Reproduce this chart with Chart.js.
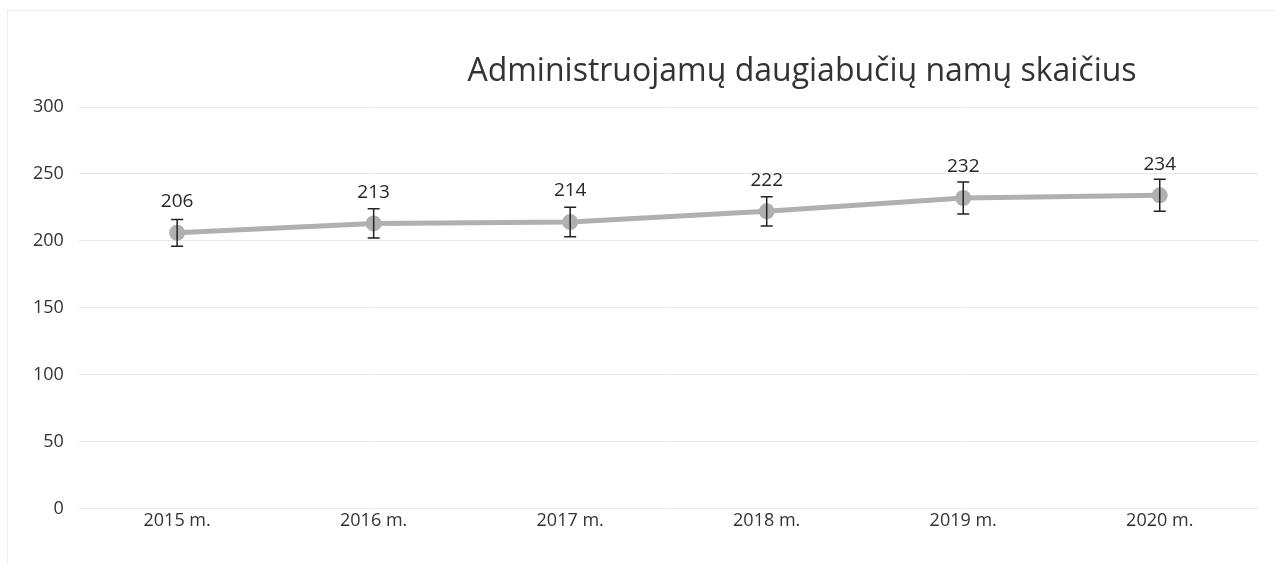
<!DOCTYPE html>
<html>
<head>
<meta charset="utf-8">
<script src="https://cdn.jsdelivr.net/npm/chart.js@4.4.1/dist/chart.umd.min.js"></script>
<style>
    html, body { margin: 0; padding: 0; background: #fff; }
    #wrap { position: relative; width: 1275px; height: 564px; }
</style>
</head>
<body>
<div id="wrap"><canvas id="houseChart" width="1275" height="564"></canvas></div>
<script>
const chartTitle = 'Administruojamų daugiabučių namų skaičius';
const years = ['2015 m.', '2016 m.', '2017 m.', '2018 m.', '2019 m.', '2020 m.'];
const houses = [206, 213, 214, 222, 232, 234];
const errors = [10, 11, 11, 11, 12, 12];
const yTicks = [0, 50, 100, 150, 200, 250, 300];

const FONT = "'Open Sans', 'Noto Sans', sans-serif";

// Error bars: drawn through the y scale
const errorBars = {
    id: 'errorBars',
    afterDatasetsDraw(chart) {
        const { ctx, scales: { x, y } } = chart;
        ctx.save();
        ctx.strokeStyle = '#222';
        ctx.lineWidth = 1.5;
        houses.forEach((v, i) => {
            const px = x.getPixelForValue(i);
            const top = y.getPixelForValue(v + errors[i]);
            const bot = y.getPixelForValue(v - errors[i]);
            ctx.beginPath();
            ctx.moveTo(px, top); ctx.lineTo(px, bot);
            ctx.moveTo(px - 6, top); ctx.lineTo(px + 6, top);
            ctx.moveTo(px - 6, bot); ctx.lineTo(px + 6, bot);
            ctx.stroke();
        });
        ctx.restore();
    }
};

// Value labels above the points
const valueLabels = {
    id: 'valueLabels',
    afterDatasetsDraw(chart) {
        const { ctx } = chart;
        const meta = chart.getDatasetMeta(0);
        ctx.save();
        ctx.fillStyle = '#262626';
        ctx.font = '19px ' + FONT;
        ctx.textAlign = 'center';
        ctx.textBaseline = 'middle';
        meta.data.forEach((pt, i) => {
            ctx.fillText(houses[i], pt.x, pt.y - 31);
        });
        ctx.restore();
    }
};

// Title sits right of centre, like in the original
const titlePlugin = {
    id: 'offsetTitle',
    afterDraw(chart) {
        const { ctx } = chart;
        ctx.save();
        ctx.fillStyle = '#333333';
        ctx.font = '32px ' + FONT;
        ctx.textAlign = 'center';
        ctx.textBaseline = 'middle';
        ctx.fillText(chartTitle, 802, 72);
        ctx.strokeStyle = '#eeeeee';
        ctx.lineWidth = 1;
        ctx.strokeRect(7.5, 10.5, 1300, 600);
        ctx.restore();
    }
};

const ctx = document.getElementById('houseChart').getContext('2d');
new Chart(ctx, {
    type: 'line',
    data: {
        labels: years,
        datasets: [{
            data: houses,
            borderColor: '#b0b0b0',
            backgroundColor: '#b0b0b0',
            borderWidth: 5,
            pointRadius: 8,
            pointHoverRadius: 8,
            pointBorderWidth: 0,
            tension: 0
        }]
    },
    options: {
        responsive: false,
        animation: false,
        layout: { padding: { top: 107, right: 17, bottom: 30, left: 18 } },
        plugins: { legend: { display: false }, tooltip: { enabled: false }, title: { display: false } },
        scales: {
            x: {
                offset: true,
                grid: { display: false, drawTicks: false },
                border: { display: false },
                ticks: { color: '#333', font: { family: FONT, size: 18 }, padding: 2 }
            },
            y: {
                min: 0,
                max: 300,
                afterBuildTicks: (axis) => { axis.ticks = yTicks.map(v => ({ value: v })); },
                grid: { color: '#e8e8e8', lineWidth: 1, drawTicks: false },
                border: { display: false },
                ticks: { color: '#333', font: { family: FONT, size: 18 }, padding: 15 }
            }
        }
    },
    plugins: [errorBars, valueLabels, titlePlugin]
});
</script>
</body>
</html>
